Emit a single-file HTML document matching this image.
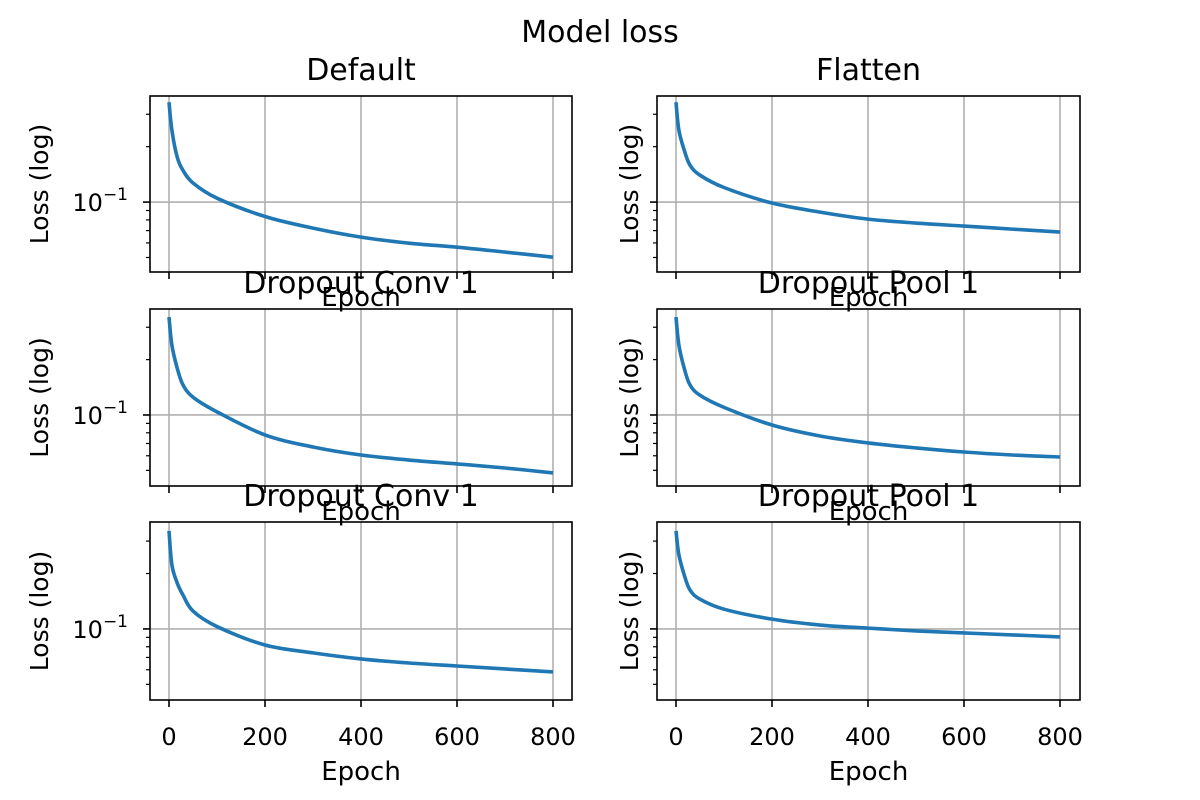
<!DOCTYPE html>
<html><head><meta charset="utf-8"><style>
html,body{margin:0;padding:0;background:#fff;}
svg{display:block;font-family:"DejaVu Sans","Liberation Sans",sans-serif;}
</style></head><body>
<svg id="fig" width="1200" height="800" viewBox="0 0 1200 800">
<rect width="1200" height="800" fill="#fff"/>
<text x="600" y="42" font-size="30" text-anchor="middle">Model loss</text>
</svg>
<script>
const epochs = [0,6,17,29,50,100,200,300,400,500,600,700,800];
const titles = ["Default","Flatten","Dropout Conv 1","Dropout Pool 1","Dropout Conv 1","Dropout Pool 1"];
const lossDefault = [0.349,0.246,0.176,0.149,0.127,0.105,0.0835,0.0722,0.0645,0.0598,0.0569,0.0535,0.0502];
const lossFlatten = [0.349,0.246,0.192,0.159,0.140,0.120,0.0988,0.0882,0.0808,0.0769,0.0741,0.0713,0.0687];
const lossDropConvA = [0.341,0.240,0.180,0.146,0.125,0.104,0.0779,0.0670,0.0606,0.0569,0.0542,0.0515,0.0484];
const lossDropPoolA = [0.341,0.240,0.180,0.146,0.128,0.110,0.0882,0.0769,0.0705,0.0662,0.0629,0.0606,0.0591];
const lossDropConvB = [0.341,0.223,0.178,0.153,0.125,0.103,0.0818,0.0741,0.0687,0.0653,0.0629,0.0606,0.0584];
const lossDropPoolB = [0.341,0.253,0.197,0.163,0.145,0.128,0.113,0.105,0.101,0.0975,0.0951,0.0928,0.0905];
const series = [lossDefault,lossFlatten,lossDropConvA,lossDropPoolA,lossDropConvB,lossDropPoolB];
const xTicks = [0,200,400,600,800];
const yLimits = [[0.0417,0.377],[0.0411,0.377],[0.0411,0.381]];

const NS="http://www.w3.org/2000/svg";
const svg=document.getElementById('fig');
function mk(tag,attrs,parent){const e=document.createElementNS(NS,tag);for(const k in attrs)e.setAttribute(k,attrs[k]);(parent||svg).appendChild(e);return e;}
const cols=[[150,572],[657,1080]];
const rows=[[96,272],[309,486],[522,700]];
for(let i=0;i<6;i++){
  const r=Math.floor(i/2), c=i%2;
  const [x0,x1]=cols[c],[y0,y1]=rows[r];
  const xs=v=>x0+19+(v/800)*384;
  const [lo,hi]=yLimits[r];
  const ys=v=>y1-(Math.log10(v)-Math.log10(lo))/(Math.log10(hi)-Math.log10(lo))*(y1-y0);
  const g=mk('g',{});
  
  
  xTicks.forEach(t=>{const l=mk('line',{x1:xs(t),x2:xs(t),y1:y0,y2:y1,stroke:'#b0b0b0','stroke-width':1.6},g);
    });
  const gl=mk('line',{x1:x0,x2:x1,y1:ys(0.1),y2:ys(0.1),stroke:'#b0b0b0','stroke-width':1.6},g);
  
  const pts=epochs.map((e,k)=>[xs(e),ys(series[i][k])]);
  let d='M'+pts[0][0]+','+pts[0][1];
  for(let k=0;k<pts.length-1;k++){
    const p0=pts[k-1]||pts[k],p1=pts[k],p2=pts[k+1],p3=pts[k+2]||p2;
    d+=' C'+(p1[0]+(p2[0]-p0[0])/6)+','+(p1[1]+(p2[1]-p0[1])/6)+' '+(p2[0]-(p3[0]-p1[0])/6)+','+(p2[1]-(p3[1]-p1[1])/6)+' '+p2[0]+','+p2[1];
  }
  const ln=mk('path',{d:d,fill:'none',stroke:'#1f77b4','stroke-width':3.6,'stroke-linejoin':'round'},g);
  
  const fr=mk('rect',{x:x0,y:y0,width:x1-x0,height:y1-y0,fill:'none',stroke:'#000','stroke-width':1.6},g);
  
  xTicks.forEach(t=>{mk('line',{x1:xs(t),x2:xs(t),y1:y1,y2:y1+7,stroke:'#000','stroke-width':1.6},g);
    if(r===2){const tl=mk('text',{x:xs(t),y:y1+45,'font-size':24,'text-anchor':'middle'},g);tl.textContent=t;
      }});
  mk('line',{x1:x0-7,x2:x0,y1:ys(0.1),y2:ys(0.1),stroke:'#000','stroke-width':1.6},g);
  [0.05,0.06,0.07,0.08,0.09,0.2,0.3].forEach(v=>{if(v>lo&&v<hi)mk('line',{x1:x0-4,x2:x0,y1:ys(v),y2:ys(v),stroke:'#000','stroke-width':1.2},g);});
  if(c===0){
    const yt=mk('text',{x:x0-22,y:ys(0.1)+9,'font-size':24,'text-anchor':'end'},g);
    yt.innerHTML='10<tspan dy="-11" font-size="17">−1</tspan>';
    
  }
  const ylx = c===0 ? x0-102 : x0-19;
  const yl=mk('text',{x:0,y:0,'font-size':25,'text-anchor':'middle',transform:'translate('+ylx+','+((y0+y1)/2)+') rotate(-90)'},g);
  yl.textContent='Loss (log)';
  const xl=mk('text',{x:(x0+x1)/2,y:r===2?y1+80:y1+34,'font-size':26,'text-anchor':'middle'},g);
  xl.textContent='Epoch';
  const tt=mk('text',{x:(x0+x1)/2,y:y0-16,'font-size':30,'text-anchor':'middle'},g);
  tt.textContent=titles[i];
}
</script>
</body></html>
